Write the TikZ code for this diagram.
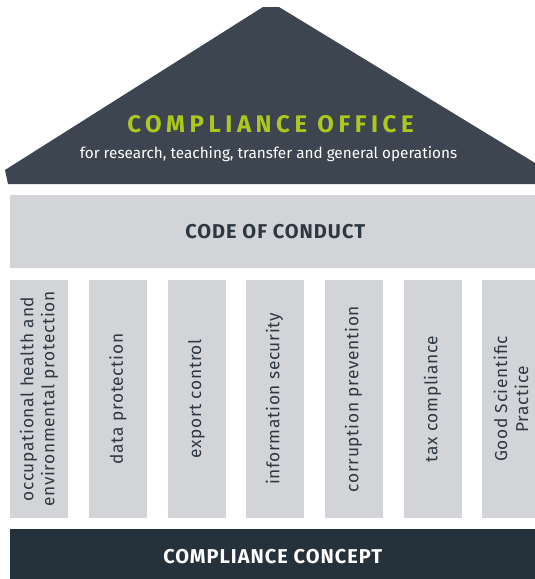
\documentclass[tikz,border=0pt]{standalone}
\usepackage{fontspec}
\setmainfont{Fira Sans}
\newfontfamily\officefont[LetterSpace=19]{Fira Sans}
\newfontfamily\capsfont[LetterSpace=5]{Fira Sans}
\newfontfamily\pillarfont[LetterSpace=4]{Fira Sans}
\usepackage{tikz}

\definecolor{roofgray}{HTML}{3C4550}
\definecolor{basegray}{HTML}{25313B}
\definecolor{pillargray}{HTML}{D3D4D7}
\definecolor{officegreen}{HTML}{ACC81E}
\definecolor{textgray}{HTML}{2E3842}

\begin{document}
\begin{tikzpicture}[x=1pt, y=-1pt,
    pillar/.style={rotate=90, fill=pillargray, text=textgray, inner sep=0pt,
      minimum width=238pt, minimum height=58pt, align=center,
      font=\pillarfont\fontsize{17.3}{21}\selectfont},
    beam/.style={anchor=north west, inner sep=0pt,
      font=\capsfont\bfseries\fontsize{20}{24}\selectfont}]
  \useasboundingbox (0,0) rectangle (535,579);
  % roof
  \fill[roofgray] (8,184) -- (5,170) -- (263,7) -- (279,7) -- (540,166) -- (540,184) -- cycle;
  \node[anchor=base, text=officegreen, font=\officefont\bfseries\fontsize{24}{28}\selectfont]
    (office) at (270.5,132) {COMPLIANCE OFFICE};
  \node[anchor=base, text=white, font=\fontsize{15.3}{18}\selectfont]
    (scope) at (268.5,158) {for research, teaching, transfer and general operations};
  % code of conduct
  \node[beam, fill=pillargray, text=textgray, minimum width=530pt, minimum height=73pt]
    (conduct) at (10,195) {CODE OF CONDUCT};
  % pillars
  \node[pillar] (health) at (39,399) {occupational health and\\environmental protection};
  \node[pillar] (data) at (118,399) {data protection};
  \node[pillar] (export) at (196.5,399) {export control};
  \node[pillar] (infosec) at (274.5,399) {information security};
  \node[pillar] (corruption) at (353.5,399) {corruption prevention};
  \node[pillar] (tax) at (432.5,399) {tax compliance};
  \node[pillar] (gsp) at (511,399) {Good Scientific\\Practice};
  % base
  \node[beam, fill=basegray, text=white, minimum width=525pt, minimum height=55pt]
    (concept) at (10,529) {COMPLIANCE CONCEPT};
\end{tikzpicture}
\end{document}
